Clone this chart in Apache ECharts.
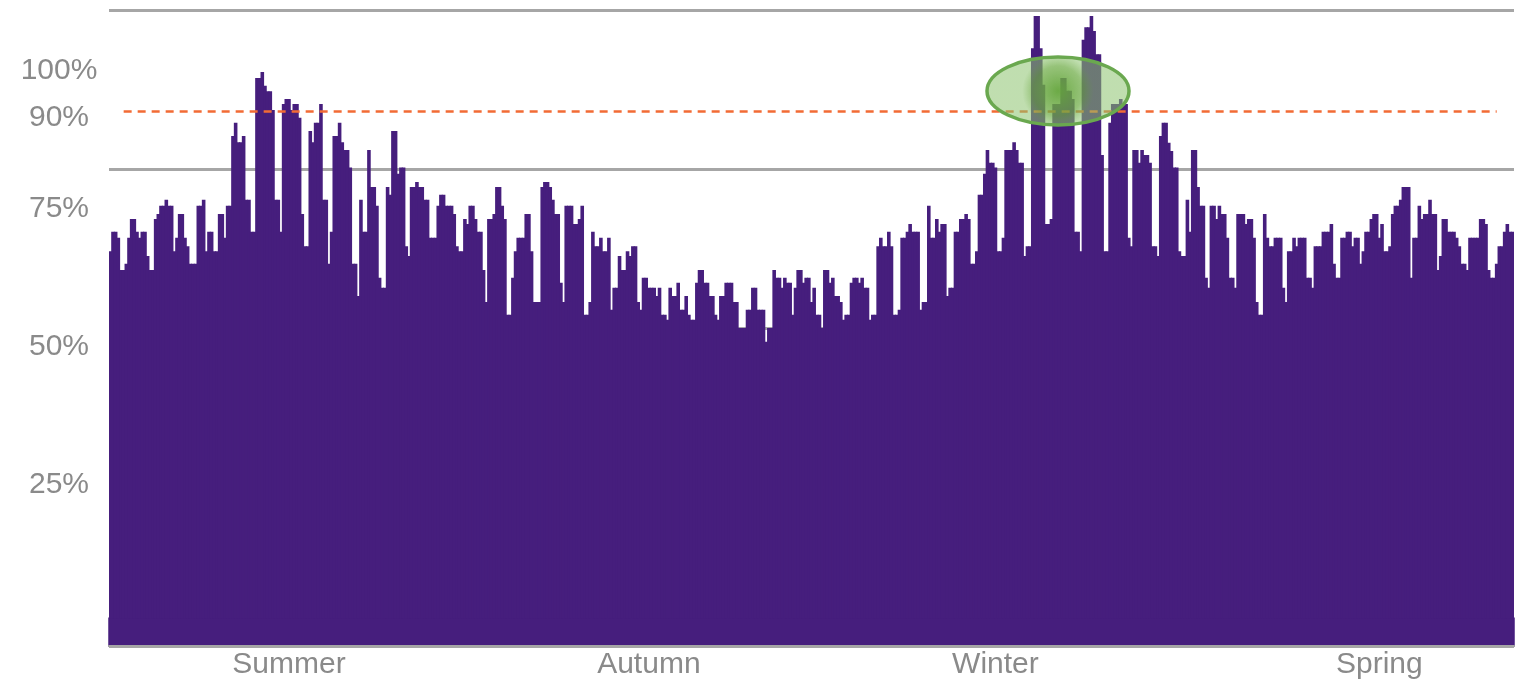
<head>
  <meta charset="utf-8" />
</head>

<body style="margin: 0">
  <!-- chart container -->
  <div id="main" style="width: 1521px; height: 691px"></div>
  <script src="https://cdn.jsdelivr.net/npm/echarts@6/dist/echarts.min.js"></script>
  <script>
    // daily occupancy in %, left to right
    var occupancy = [
      66.4, 69.9, 69.9, 68.8, 63, 63, 64.1, 68.8, 72.2, 72.2,
      69.9, 68.8, 69.9, 69.9, 65.5, 63, 63, 72.2, 73.1, 74.6,
      74.6, 75.7, 74.6, 74.6, 66.4, 68.8, 73.1, 73.1, 68.8, 67.3,
      64.1, 64.1, 64.1, 74.6, 74.6, 75.7, 66.4, 69.9, 69.9, 66.4,
      66.4, 73.1, 73.1, 68.8, 74.6, 74.6, 87.2, 89.6, 86.1, 86.1,
      87.2, 75.7, 75.7, 69.9, 69.9,
      97.7, 97.7, 98.8, 96.3, 95.3, 95.3, 91.9, 75.7, 75.7, 69.9,
      93, 93.9, 93.9, 91.9, 93, 93, 90.5, 73.1, 67.3, 67.3,
      88.1, 86.1, 89.6, 89.6, 93, 75.7, 75.7, 64.1, 69.9, 87.2,
      87.2, 89.6, 86.1, 84.7, 84.7, 81.5, 64.1, 64.1, 58.3, 75.7,
      69.9, 69.9, 84.7, 78, 78, 74.6, 61.6, 59.8, 59.8, 78,
      76.6, 88.1, 88.1, 80.4, 81.5, 81.5, 67.3, 65.5,
      78, 78, 78.9, 78, 78, 75.7, 75.7, 68.8, 68.8, 68.8,
      74.6, 76.6, 76.6, 74.6, 74.6, 74.6, 73.1, 67.3, 66.4, 66.4,
      72.2, 71.3, 74.6, 74.6, 72.2, 69.9, 69.9, 63, 57.2, 72.2,
      72.2, 73.1, 78, 78, 74.6, 72.2, 54.9, 54.9, 61.6, 66.4,
      68.8, 68.8, 68.8, 73.1, 73.1, 66.4, 57.2, 57.2, 57.2, 78,
      78.9, 78.9, 78, 75.7, 73.1, 73.1, 60.7, 57.2,
      74.6, 74.6, 74.6, 71.3, 71.3, 72.2, 74.6, 54.9, 54.9, 57.2,
      69.9, 67.3, 67.3, 68.8, 66.4, 66.4, 68.8, 55.8, 59.8, 59.8,
      65.5, 63, 63, 66.4, 65.5, 67.3, 67.3, 57.2, 55.8, 61.6,
      61.6, 59.8, 59.8, 59.8, 58.3, 59.8, 54.9, 54.9, 54, 59.8,
      58.3, 58.3, 60.7, 55.8, 55.8, 58.3, 54.9, 54, 54, 60.7,
      63, 63, 60.7, 60.7, 58.3, 58.3, 54.9, 54,
      58.3, 58.3, 60.7, 60.7, 60.7, 57.2, 57.2, 52.5, 52.5, 52.5,
      55.8, 55.8, 59.8, 59.8, 55.8, 55.8, 55.8, 50, 52.5, 52.5,
      63, 61.6, 61.6, 59.8, 61.6, 60.7, 60.7, 54.9, 59.8, 63,
      63, 60.7, 61.6, 61.6, 57.2, 59.8, 54.9, 54.9, 52.5, 63,
      63, 60.7, 61.6, 58.3, 58.3, 57.2, 54, 54.9, 54.9, 60.7,
      61.6, 61.6, 60.7, 61.6, 59.8, 59.8, 54, 54.9,
      54.9, 67.3, 68.8, 67.3, 67.3, 69.9, 67.3, 54.9, 54.9, 55.8,
      68.8, 68.8, 69.9, 71.3, 69.9, 69.9, 69.9, 55.8, 57.2, 57.2,
      74.6, 68.8, 68.8, 72.2, 69.9, 71.3, 71.3, 58.3, 59.8, 59.8,
      69.9, 69.9, 72.2, 72.2, 73.1, 72.2, 64.1, 64.1, 66.4, 76.6,
      76.6, 80.4, 84.7, 82.4, 82.4, 81.5, 66.4, 66.4, 68.8, 84.7,
      84.7, 84.7, 86.1, 84.7, 82.4, 82.4, 65.5, 67.3,
      67.3, 103.1, 108.9, 108.9, 103.1, 96.5, 71.3, 71.3, 72.2, 93,
      93, 93, 97.7, 97.7, 95.4, 95.4, 93.9, 69.9, 69.9, 66.4,
      104.6, 106.9, 106.9, 108.9, 106.2, 102, 102, 83.8, 66.4, 66.4,
      89.6, 93, 93, 93, 93.9, 93, 93, 68.8, 67.3, 84.7,
      84.7, 82.4, 84.7, 83.8, 83.8, 82.4, 67.3, 67.3, 65.5, 87.2,
      89.6, 89.6, 86, 84.5, 81.5, 81.5, 66.4, 65.5, 65.5, 75.7,
      69.9, 84.7, 84.7, 78, 74.6, 74.6, 61.6, 59.8, 74.6, 74.6,
      72.2, 74.6, 73.1, 73.1, 68.8, 61.6, 61.6, 59.8, 73.1, 73.1,
      73.1, 71.3, 72.2, 72.2, 68.8, 57.2, 54.9, 54.9, 73.1, 68.8,
      67.3, 67.3, 68.8, 68.8, 68.8, 59.8, 57.2, 66.4, 66.4, 68.8,
      67.3, 68.8, 68.8, 68.8, 61.6, 61.6, 59.8, 67.3, 67.3, 67.3,
      69.9, 69.9, 69.9, 71.3, 64.1, 61.6, 61.6,
      68.8, 68.8, 69.9, 69.9, 67.3, 68.8, 68.8, 64.1, 66.4, 69.9,
      69.9, 72.2, 73.1, 73.1, 68.8, 71.3, 66.4, 66.4, 67.3, 73.1,
      74.6, 74.6, 75.7, 78, 78, 78, 61.6, 68.8, 68.8, 74.6,
      72.2, 73.1, 73.1, 75.7, 73.1, 73.1, 63, 65.5, 72.2, 72.2,
      69.9, 69.9, 69.9, 68.8, 67.3, 64.1, 64.1, 63, 68.8, 68.8,
      68.8, 68.8, 72.2, 72.2, 71.3, 63, 61.6, 61.6, 64.1, 67.3,
      67.3, 69.9, 71.3, 69.9, 69.9
    ];

    // season names and the day each name sits under
    var seasonNames = ["Summer", "Autumn", "Winter", "Spring"];
    var seasonDays = [67, 202, 332, 476];

    // y labels: where each one sits and its text (90% sits a little high, as in the original)
    var yLabelAt = [25, 50, 75, 91.5, 100];
    var yLabelText = ["25%", "50%", "75%", "90%", "100%"];

    // target level (red dashed line) and the days it runs between
    var targetLevel = 91.7;
    var targetFrom = 5;
    var targetTo = 520;

    var days = occupancy.map((v, i) => i);

    var purple = "#461e7d";
    var grey = "#8a8a8a";
    var font = "'Liberation Sans', Arial, sans-serif";

    var myChart = echarts.init(document.getElementById("main"));
    const option = {
      animation: false,
      grid: { left: 109, right: 7, top: 10, bottom: 45 },
      xAxis: {
        type: "category",
        data: days,
        z: 5,
        axisTick: { show: false },
        axisLine: { onZero: false, lineStyle: { color: "#a6a6a6", width: 2 } },
        axisLabel: {
          interval: (i) => seasonDays.indexOf(i) > -1,
          formatter: (v, i) => seasonNames[seasonDays.indexOf(i)],
          color: grey,
          fontSize: 30,
          fontFamily: font,
          margin: 4,
        },
      },
      yAxis: [
        {
          type: "value",
          min: -5,
          max: 110,
          interval: 0.5,
          axisLine: { show: false },
          axisTick: { show: false },
          splitLine: { show: false },
          axisLabel: {
            formatter: (v) => {
              var k = yLabelAt.indexOf(v);
              return k > -1 ? yLabelText[k] : "";
            },
            color: grey,
            fontSize: 30,
            fontFamily: font,
            align: "center",
            verticalAlign: "top",
            lineHeight: 10,
            margin: 50,
          },
        },
        {
          // only for the grey gridlines (4 equal bands)
          type: "value",
          min: 0,
          max: 115,
          interval: 28.75,
          axisLine: { show: false },
          axisTick: { show: false },
          axisLabel: { show: false },
          splitLine: { lineStyle: { color: "#a6a6a6", width: 3 } },
        },
      ],
      series: [
        {
          type: "bar",
          data: occupancy,
          // a bit wider than the band so neighbouring bars leave no seams
          barWidth: "135%",
          itemStyle: { color: purple },
          markArea: {
            silent: true,
            itemStyle: { color: purple, borderColor: purple, borderWidth: 1.5 },
            data: [[{ yAxis: -5 }, { yAxis: 0 }]],
          },
          markLine: {
            silent: true,
            symbol: "none",
            label: { show: false },
            lineStyle: { color: "#f26b35", type: [8, 6], width: 2.5 },
            data: [
              [
                { coord: [targetFrom, targetLevel] },
                { coord: [targetTo, targetLevel] },
              ],
            ],
          },
        },
      ],
      graphic: [
        {
          type: "ellipse",
          z: 100,
          shape: { cx: 1058, cy: 91, rx: 71, ry: 34 },
          style: {
            fill: {
              type: "radial",
              x: 0.5,
              y: 0.5,
              r: 0.5,
              colorStops: [
                { offset: 0, color: "rgba(100,165,60,0.95)" },
                { offset: 0.7, color: "rgba(110,172,70,0.72)" },
                { offset: 1, color: "rgba(140,195,110,0.55)" },
              ],
            },
            stroke: "#6aa84f",
            lineWidth: 3.5,
          },
        },
      ],
    };
    myChart.setOption(option);
  </script>
</body>
